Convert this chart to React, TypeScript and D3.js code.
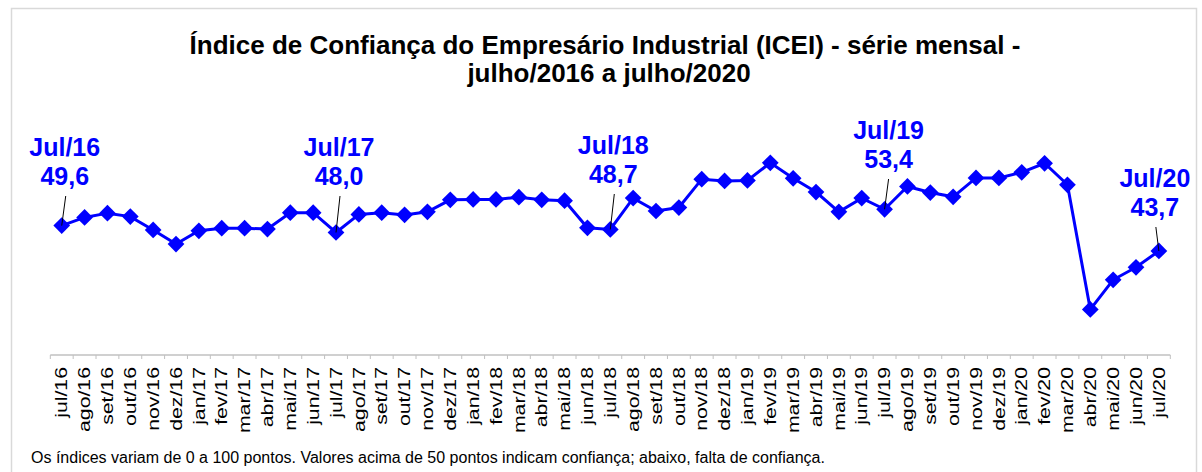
import React from "react";
import * as d3 from "d3";

const months = [
  "jul/16","ago/16","set/16","out/16","nov/16","dez/16",
  "jan/17","fev/17","mar/17","abr/17","mai/17","jun/17","jul/17","ago/17","set/17","out/17","nov/17","dez/17",
  "jan/18","fev/18","mar/18","abr/18","mai/18","jun/18","jul/18","ago/18","set/18","out/18","nov/18","dez/18",
  "jan/19","fev/19","mar/19","abr/19","mai/19","jun/19","jul/19","ago/19","set/19","out/19","nov/19","dez/19",
  "jan/20","fev/20","mar/20","abr/20","mai/20","jun/20","jul/20",
];

const icei = [
  49.6, 51.5, 52.5, 51.7, 48.6, 45.3,
  48.4, 49.0, 49.0, 48.8, 52.6, 52.6, 48.0, 52.2, 52.6, 52.1, 52.8, 55.6,
  55.7, 55.7, 56.2, 55.6, 55.4, 49.1, 48.7, 56.0, 53.0, 53.8, 60.4, 60.0,
  60.1, 64.2, 60.6, 57.4, 52.8, 56.0, 53.4, 58.7, 57.3, 56.3, 60.7, 60.7,
  62.0, 64.1, 59.1, 30.1, 37.0, 39.9, 43.7,
];

const highlights = [
  { month: "jul/16", title: "Jul/16", label: "49,6", dy: 0, tdx: 3, ldx: 4 },
  { month: "jul/17", title: "Jul/17", label: "48,0", dy: 0, tdx: 3, ldx: 4 },
  { month: "jul/18", title: "Jul/18", label: "48,7", dy: -2, tdx: 3, ldx: 4 },
  { month: "jul/19", title: "Jul/19", label: "53,4", dy: -17, tdx: 4, ldx: 4 },
  { month: "jul/20", title: "Jul/20", label: "43,7", dy: 31, tdx: -4, ldx: -3 },
];

const chartTitle1 = "Índice de Confiança do Empresário Industrial (ICEI) - série mensal -";
const chartTitle2 = "julho/2016 a julho/2020";
const footnote = "Os índices variam de 0 a 100 pontos. Valores acima de 50 pontos indicam confiança; abaixo, falta de confiança.";

export default function App() {
  const W = 1202, H = 472;
  const x = d3.scaleBand<string>().domain(months).range([50.3, 1170.3]).padding(0);
  const bw = x.bandwidth();
  const cx = (m: string) => (x(m) as number) + bw / 2;
  const y = d3.scaleLinear().domain([30, 65]).range([309.9, 159.4]);
  const axisY = 355;
  const data = months.map((m, i) => ({ m, v: icei[i] }));
  const line = d3.line<{ m: string; v: number }>().x(d => cx(d.m)).y(d => y(d.v));
  const marker = d3.symbol().type(d3.symbolSquare).size(140)();
  const font = "Arial, 'Liberation Sans', sans-serif";
  const blue = "#0000FF";
  const edges = months.map(m => x(m) as number).concat([x.range()[1]]);

  return (
    <svg width={W} height={H} style={{ position: "absolute", left: 0, top: 0, background: "#fff" }} fontFamily={font}>
      <rect x={11.5} y={8.5} width={1185} height={470} fill="#fff" stroke="#d9d9d9" strokeWidth={1.5} />
      <text x={605} y={54} textAnchor="middle" fontSize={26} fontWeight="bold" fill="#000">{chartTitle1}</text>
      <text x={609} y={82} textAnchor="middle" fontSize={26} fontWeight="bold" fill="#000">{chartTitle2}</text>

      {/* axis */}
      <line x1={x.range()[0]} x2={x.range()[1]} y1={axisY} y2={axisY} stroke="#c0c0c0" strokeWidth={1.5} />
      {edges.map((e, i) => (
        <line key={"t" + i} x1={e} x2={e} y1={axisY} y2={axisY + 4} stroke="#c0c0c0" strokeWidth={1} />
      ))}
      {months.map(m => (
        <text key={m} transform={`translate(${cx(m)},${367}) rotate(-90) scale(1.25,1)`} textAnchor="end" dominantBaseline="central" fontSize={17} fill="#000">{m}</text>
      ))}

      <path d={line(data) || ""} fill="none" stroke={blue} strokeWidth={3} />
      {data.map(d => (
        <path key={d.m} d={marker || ""} transform={`translate(${cx(d.m)},${y(d.v)}) rotate(45)`} fill={blue} />
      ))}

      {highlights.map(h => {
        const v = icei[months.indexOf(h.month)];
        const px = cx(h.month);
        const py = y(v);
        const tx = px + h.tdx;
        const base = 156 + h.dy;
        return (
          <g key={h.month}>
            <line x1={px + h.ldx} y1={base + 40} x2={px} y2={py} stroke="#000" strokeWidth={1} />
            <text x={tx} y={base} textAnchor="middle" fontSize={25} fontWeight="bold" fill={blue}>{h.title}</text>
            <text x={tx} y={base + 29} textAnchor="middle" fontSize={25} fontWeight="bold" fill={blue}>{h.label}</text>
          </g>
        );
      })}

      <text x={31} y={463} fontSize={16} fill="#000">{footnote}</text>
    </svg>
  );
}
